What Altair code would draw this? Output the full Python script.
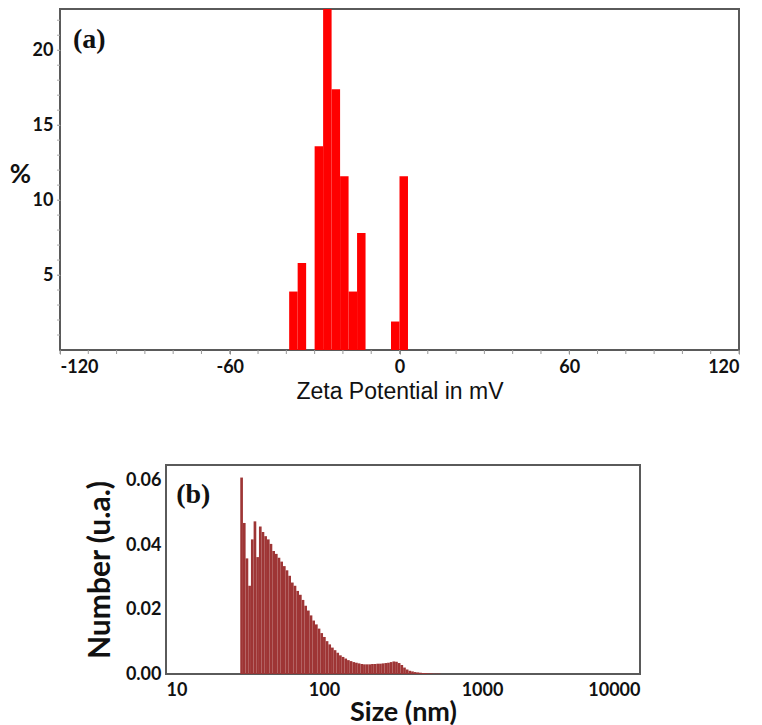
import altair as alt
import pandas as pd
import numpy as np

# ---------------- data: panel (a) zeta potential histogram ----------------
zeta_bin_start = [-39, -36, -30, -27, -24, -21, -18, -15, -3, 0]
zeta_bin_width = 3
zeta_percent = [3.9, 5.8, 13.6, 23.5, 17.4, 11.6, 3.9, 7.8, 1.9, 11.6]

zeta_labels = [-120, -60, 0, 60, 120]
zeta_minor_ticks = list(range(-120, 121, 10))
pct_labels = [5, 10, 15, 20]
pct_minor_ticks = list(range(1, 23))

# ---------------- data: panel (b) size distribution ----------------
size_number = [
    0.0610, 0.0469, 0.0359, 0.0274, 0.0418, 0.0474, 0.0363, 0.0458, 0.0441, 0.0428,
    0.0418, 0.0404, 0.0382, 0.0373, 0.0361, 0.0349, 0.0335, 0.0322, 0.0305, 0.0284,
    0.0274, 0.0258, 0.0246, 0.0230, 0.0212, 0.0197, 0.0182, 0.0166, 0.0154, 0.0141,
    0.0127, 0.0115, 0.0102, 0.0092, 0.0082, 0.0074, 0.0066, 0.0058, 0.0053, 0.0048,
    0.0043, 0.0040, 0.0037, 0.0035, 0.0033, 0.0031, 0.0030, 0.0030, 0.0030, 0.0031,
    0.0031, 0.0032, 0.0032, 0.0033, 0.0034, 0.0035, 0.0037, 0.0039, 0.0038, 0.0034,
    0.0028, 0.0020, 0.0014, 0.0010, 0.0008, 0.0006, 0.0005, 0.0004, 0.0003, 0.0003,
    0.0002, 0.0002, 0.0001, 0.0001, 0.0001,
]
size_bin_start_log10 = 1.470   # first size bin starts near 29.5 nm
size_bin_step_log10 = 0.0169   # log-spaced instrument bins
size_ticks = [10, 100, 1000, 10000]
number_ticks = [0.0, 0.02, 0.04, 0.06]

# ---------------- tables ----------------
df_a = pd.DataFrame({
    "lo": zeta_bin_start,
    "hi": [s + zeta_bin_width for s in zeta_bin_start],
    "pct": zeta_percent,
})

edges = 10 ** (size_bin_start_log10 + size_bin_step_log10 * np.arange(len(size_number) + 1))
df_b = pd.DataFrame({"lo": edges[:-1], "hi": edges[1:], "num": size_number})

LABEL_FONT = "Lato"
FRAME = "#5a5a5a"

A_W, A_H = 679, 341

# ---------------- panel (a) ----------------
x_a = alt.Scale(domain=[-120, 120], nice=False, zero=False)
y_a = alt.Scale(domain=[0, 22.75], nice=False)

a_bars = alt.Chart(df_a).mark_rect(color="#ff0000", clip=True).encode(
    x=alt.X(
        "lo:Q", scale=x_a,
        axis=alt.Axis(
            values=zeta_labels, labelExpr="toString(datum.value)", labelOverlap=False,
            labelFont=LABEL_FONT, labelFontWeight="bold", labelFontSize=18, labelColor="#111",
            labelPadding=4, tickSize=4, tickColor="#888", domain=False, grid=False,
            title="Zeta Potential in mV", titleFont="Liberation Sans", titleFontWeight="normal",
            titleFontSize=23, titleColor="#111", titlePadding=4,
        ),
    ),
    x2="hi:Q",
    y=alt.Y(
        "pct:Q", scale=y_a,
        axis=alt.Axis(
            values=pct_labels, labelExpr="toString(datum.value)", labelOverlap=False,
            labelFont=LABEL_FONT, labelFontWeight="bold", labelFontSize=18, labelColor="#111",
            labelPadding=4, tickSize=3, tickColor="#999", domain=False, grid=False,
            title="%", titleAngle=0, titleX=-40, titleY=165, titleAlign="center",
            titleBaseline="middle", titleFont=LABEL_FONT, titleFontWeight="bold",
            titleFontSize=26, titleColor="#111",
        ),
    ),
    y2=alt.datum(0),
)

a_xminor = alt.Chart(pd.DataFrame({"t": zeta_minor_ticks})).mark_rule(
    color="#999", strokeWidth=1
).encode(x=alt.X("t:Q", scale=x_a), y=alt.value(A_H), y2=alt.value(A_H + 4))

a_yminor = alt.Chart(pd.DataFrame({"t": pct_minor_ticks})).mark_rule(
    color="#aaa", strokeWidth=1
).encode(y=alt.Y("t:Q", scale=y_a), x=alt.value(-3), x2=alt.value(0))

a_text = alt.Chart(pd.DataFrame({"panel": ["(a)"]})).mark_text(
    font="Liberation Serif", fontWeight="bold", fontSize=28, align="left",
    baseline="middle", color="#111",
).encode(x=alt.datum(-115.4), y=alt.datum(20.7), text="panel:N")

panel_a = alt.layer(a_xminor, a_yminor, a_bars, a_text).properties(
    width=A_W, height=A_H,
    view=alt.ViewBackground(stroke=FRAME, strokeWidth=2),
)

# ---------------- panel (b) ----------------
b_bars = alt.Chart(df_b).mark_rect(color="#9e3535").encode(
    x=alt.X(
        "lo:Q",
        scale=alt.Scale(type="log", domain=[10, 10000], nice=False),
        axis=alt.Axis(
            values=size_ticks, format="d", labelOverlap=False,
            labelFont=LABEL_FONT, labelFontWeight="bold", labelFontSize=18, labelColor="#111",
            labelPadding=7, tickSize=0, domain=False, grid=False,
            title="Size (nm)", titleFont=LABEL_FONT, titleFontWeight="bold",
            titleFontSize=27, titleColor="#111", titlePadding=0,
        ),
    ),
    x2="hi:Q",
    y=alt.Y(
        "num:Q",
        scale=alt.Scale(domain=[0, 0.0649], nice=False),
        axis=alt.Axis(
            values=number_ticks, format=".2f", labelOverlap=False,
            labelFont=LABEL_FONT, labelFontWeight="bold", labelFontSize=18, labelColor="#111",
            labelPadding=5, tickSize=0, domain=False, grid=False,
            title="Number (u.a.)", titleFont=LABEL_FONT, titleFontWeight="bold",
            titleFontSize=30, titleColor="#111", titlePadding=10,
        ),
    ),
    y2=alt.datum(0),
)

b_text = alt.Chart(pd.DataFrame({"panel": ["(b)"]})).mark_text(
    font="Liberation Serif", fontWeight="bold", fontSize=28, align="left",
    baseline="middle", color="#111",
).encode(x=alt.datum(11.6), y=alt.datum(0.0557), text="panel:N")

panel_b = alt.layer(b_bars, b_text).properties(
    width=474, height=209,
    view=alt.ViewBackground(stroke=FRAME, strokeWidth=2),
)

spacer = alt.Chart(pd.DataFrame({"s": [0]})).mark_point(opacity=0).encode(
    x=alt.X("s:Q", axis=None), y=alt.Y("s:Q", axis=None)
).properties(width=23, height=10, view=alt.ViewBackground(stroke="transparent"))

chart = alt.vconcat(
    panel_a,
    alt.hconcat(spacer, panel_b, spacing=0),
    spacing=60,
).properties(
    padding={"left": 0, "top": 0, "right": 0, "bottom": 0},
).configure_view(stroke="transparent")

chart.save("out.html", embed_options={"renderer": "svg", "actions": False})
